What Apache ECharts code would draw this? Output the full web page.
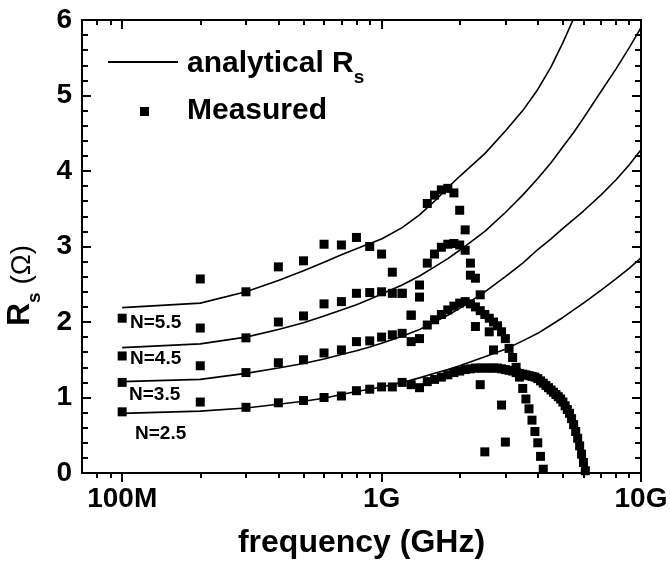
<!DOCTYPE html>
<html><head><meta charset="utf-8">
<script src="https://cdn.jsdelivr.net/npm/echarts@6/dist/echarts.min.js"></script>
<style>html,body{margin:0;padding:0;background:#fff}#c{width:670px;height:565px}</style>
</head><body><div id="c"></div>
<script>
// ---- axis ticks / labels ----
const xMajor = [0.1, 1, 10];
const xMinor = [0.08, 0.09, 0.2, 0.3, 0.4, 0.5, 0.6, 0.7, 0.8, 0.9, 2, 3, 4, 5, 6, 7, 8, 9];
const xTickLabels = ['100M', '1G', '10G'];

// ---- analytical curves (GHz, ohm) ----
const curveFreq = [0.1,0.2,0.3,0.4,0.5,0.6,0.7,0.8,0.9,1,1.2,1.4,1.6,1.8,2,2.5,3,3.5,4,4.5,5,5.5,6,7,8,9,10];
const curveN25 = [0.79,0.82,0.86,0.91,0.95,0.99,1.04,1.08,1.11,1.14,1.20,1.26,1.32,1.37,1.42,1.54,1.64,1.75,1.85,1.96,2.06,2.16,2.25,2.42,2.57,2.71,2.85];
const curveN35 = [1.21,1.24,1.32,1.39,1.45,1.51,1.57,1.62,1.67,1.72,1.81,1.90,2.00,2.09,2.18,2.40,2.60,2.78,2.96,3.10,3.24,3.36,3.47,3.68,3.88,4.08,4.28];
const curveN45 = [1.66,1.71,1.80,1.90,1.99,2.08,2.16,2.23,2.30,2.37,2.49,2.61,2.73,2.84,2.95,3.20,3.45,3.68,3.90,4.11,4.32,4.51,4.70,5.05,5.35,5.63,5.90];
const curveN55 = [2.19,2.25,2.40,2.55,2.68,2.79,2.89,2.97,3.04,3.10,3.25,3.42,3.60,3.78,3.93,4.23,4.53,4.80,5.08,5.38,5.70,6.02,6.35,6.9,7.4,7.9,8.4];

// ---- measured (GHz, ohm) ----
const measFreq = [0.1,0.2,0.3,0.4,0.5,0.6,0.7,0.8,0.9,1.0,
  1.1,1.2,1.3,1.4,1.5,1.6,1.7,1.8,1.9,2.0,2.1,2.2,2.3,2.4,2.5,2.6,2.7,2.8,2.9,3.0,
  3.1,3.2,3.3,3.4,3.5,3.6,3.7,3.8,3.9,4.0,4.1,4.2,4.3,4.4,4.5,4.6,4.7,4.8,4.9,5.0,
  5.1,5.2,5.3,5.4,5.5,5.6,5.7,5.8,5.9,6.0,6.1];
const measN25 = [0.81,0.94,0.87,0.93,0.96,1.00,1.02,1.09,1.11,1.14,
  1.14,1.20,1.17,1.13,1.21,1.24,1.27,1.30,1.33,1.35,1.37,1.38,1.39,1.39,1.39,1.39,1.39,1.39,1.38,1.37,
  1.36,1.35,1.33,1.32,1.31,1.30,1.29,1.28,1.27,1.25,1.22,1.19,1.16,1.13,1.10,1.07,1.04,1.01,0.98,0.94,
  0.89,0.84,0.79,0.72,0.64,0.55,0.46,0.36,0.25,0.14,0.03];
const measN35 = [1.20,1.42,1.33,1.46,1.50,1.59,1.63,1.74,1.75,1.80,
  1.83,1.85,1.74,1.78,1.96,2.03,2.10,2.16,2.21,2.25,2.27,2.24,2.20,2.15,2.10,2.05,2.00,1.95,1.87,1.78,
  1.65,1.53,1.40,1.27,1.12,0.98,0.85,0.70,0.55,0.40,0.22,0.05];
const measN45 = [1.55,1.92,1.79,2.00,2.08,2.24,2.27,2.38,2.39,2.40,
  2.38,2.38,2.09,2.33,2.78,2.90,2.99,3.03,3.04,3.02,2.95,2.78,2.58,2.36,null,1.87,1.63,null,0.90,0.41];
const measN55 = [2.05,2.57,2.40,2.73,2.81,3.03,3.02,3.12,3.00,2.90,
  2.66,2.38,2.09,2.49,3.57,3.68,3.75,3.77,3.71,3.48,3.22,2.62,1.94,1.17,0.28];

const FONT = '"Liberation Sans", Arial, sans-serif';
const BLACK = '#000';

function pairs(xs, ys) {
  const out = [];
  ys.forEach((y, i) => { if (y !== null) out.push([xs[i], y]); });
  return out;
}

const chart = echarts.init(document.getElementById('c'), null, {renderer: 'canvas'});

function xAxisBase(extra) {
  return Object.assign({
    type: 'log', logBase: 10, min: 0.07, max: 10, gridIndex: 0,
    splitLine: {show: false}, minorTick: {show: false}, minorSplitLine: {show: false},
    axisLine: {show: false, onZero: false},
    axisLabel: {show: false}
  }, extra);
}
const tickLine = () => ({color: BLACK, width: 2});

const option = {
  animation: false,
  backgroundColor: '#fff',
  grid: {left: 82, right: 29, top: 20, bottom: 92, containLabel: false, outerBoundsMode: 'none'},
  xAxis: [
    xAxisBase({
      position: 'bottom',
      axisLine: {show: true, onZero: false, lineStyle: {color: BLACK, width: 2}},
      axisTick: {show: true, inside: false, length: 9, customValues: xMajor, lineStyle: tickLine()},
      axisLabel: {show: true, customValues: xMajor, margin: 12, color: BLACK, fontFamily: FONT,
        fontWeight: 'bold', fontSize: 28,
        formatter: v => { const k = Math.round(Math.log10(v)) + 1; return xTickLabels[k] || ''; }},
      name: 'frequency (GHz)', nameLocation: 'middle', nameGap: 54, nameMoveOverlap: false,
      nameTextStyle: {color: BLACK, fontFamily: FONT, fontWeight: 'bold', fontSize: 32}
    }),
    xAxisBase({position: 'bottom',
      axisTick: {show: true, inside: false, length: 5, customValues: xMinor, lineStyle: tickLine()}}),
    xAxisBase({position: 'top',
      axisLine: {show: true, onZero: false, lineStyle: {color: BLACK, width: 2}},
      axisTick: {show: true, inside: true, length: 9, customValues: xMajor, lineStyle: tickLine()}}),
    xAxisBase({position: 'top',
      axisTick: {show: true, inside: true, length: 5, customValues: xMinor, lineStyle: tickLine()}})
  ],
  yAxis: [
    {type: 'value', min: 0, max: 6, interval: 1, position: 'left', gridIndex: 0,
      axisLine: {show: true, onZero: false, lineStyle: {color: BLACK, width: 2}},
      axisTick: {show: true, inside: true, length: 9, lineStyle: tickLine()},
      minorTick: {show: true, splitNumber: 5, length: 6, lineStyle: tickLine()},
      splitLine: {show: false},
      axisLabel: {color: BLACK, fontFamily: FONT, fontWeight: 'bold', fontSize: 28, margin: 10},
      name: '{r|R}{s|s}{o| (Ω)}', nameLocation: 'middle', nameGap: 46, nameRotate: 90, nameMoveOverlap: false,
      nameTextStyle: {color: BLACK, fontFamily: FONT, padding: [0, 78, 0, 0],
        rich: {
          r: {fontFamily: FONT, fontWeight: 'bold', fontSize: 32, color: BLACK, lineHeight: 36, verticalAlign: 'bottom'},
          s: {fontFamily: FONT, fontWeight: 'bold', fontSize: 19, color: BLACK, lineHeight: 36, verticalAlign: 'bottom', padding: [0, 0, -8, 0]},
          o: {fontFamily: FONT, fontWeight: 'normal', fontSize: 28, color: BLACK, lineHeight: 36, verticalAlign: 'bottom'}
        }}
    },
    {type: 'value', min: 0, max: 6, interval: 1, position: 'right', gridIndex: 0,
      axisLine: {show: true, onZero: false, lineStyle: {color: BLACK, width: 2}},
      axisTick: {show: true, inside: true, length: 9, lineStyle: tickLine()},
      minorTick: {show: true, splitNumber: 5, length: 6, lineStyle: tickLine()},
      splitLine: {show: false}, axisLabel: {show: false}
    }
  ],
  series: [
    ...[curveN25, curveN35, curveN45, curveN55].map((arr) => ({
      name: 'analytical', type: 'line', xAxisIndex: 0, yAxisIndex: 0,
      data: pairs(curveFreq, arr), symbol: 'none', smooth: false, clip: true,
      lineStyle: {color: BLACK, width: 1.6}, z: 2
    })),
    ...[measN25, measN35, measN45, measN55].map((arr) => ({
      name: 'Measured', type: 'scatter', xAxisIndex: 0, yAxisIndex: 0,
      data: pairs(measFreq, arr), symbol: 'rect', symbolSize: 9,
      itemStyle: {color: BLACK, opacity: 1}, z: 3
    }))
  ],
  graphic: [
    {type: 'line', shape: {x1: 108, y1: 62, x2: 178, y2: 62}, style: {stroke: BLACK, lineWidth: 2}},
    {type: 'text', x: 187, y: 62, style: {text: '{a|analytical R}{s|s}', textVerticalAlign: 'middle',
      rich: {a: {fontFamily: FONT, fontWeight: 'bold', fontSize: 30, fill: BLACK, lineHeight: 34, verticalAlign: 'bottom'},
             s: {fontFamily: FONT, fontWeight: 'bold', fontSize: 19, fill: BLACK, lineHeight: 34, verticalAlign: 'bottom', padding: [0,0,-8,0]}}}},
    {type: 'rect', shape: {x: 140, y: 107, width: 9, height: 9}, style: {fill: BLACK}},
    {type: 'text', x: 187, y: 111, style: {text: 'Measured', fontFamily: FONT, fontWeight: 'bold', fontSize: 30, fill: BLACK, textVerticalAlign: 'middle'}},
    {type: 'text', x: 130, y: 323, style: {text: 'N=5.5', fontFamily: FONT, fontWeight: 'bold', fontSize: 19, fill: BLACK, textVerticalAlign: 'middle'}},
    {type: 'text', x: 130, y: 359, style: {text: 'N=4.5', fontFamily: FONT, fontWeight: 'bold', fontSize: 19, fill: BLACK, textVerticalAlign: 'middle'}},
    {type: 'text', x: 129, y: 395, style: {text: 'N=3.5', fontFamily: FONT, fontWeight: 'bold', fontSize: 19, fill: BLACK, textVerticalAlign: 'middle'}},
    {type: 'text', x: 135, y: 434, style: {text: 'N=2.5', fontFamily: FONT, fontWeight: 'bold', fontSize: 19, fill: BLACK, textVerticalAlign: 'middle'}}
  ]
};
chart.setOption(option);
</script>
</body></html>
